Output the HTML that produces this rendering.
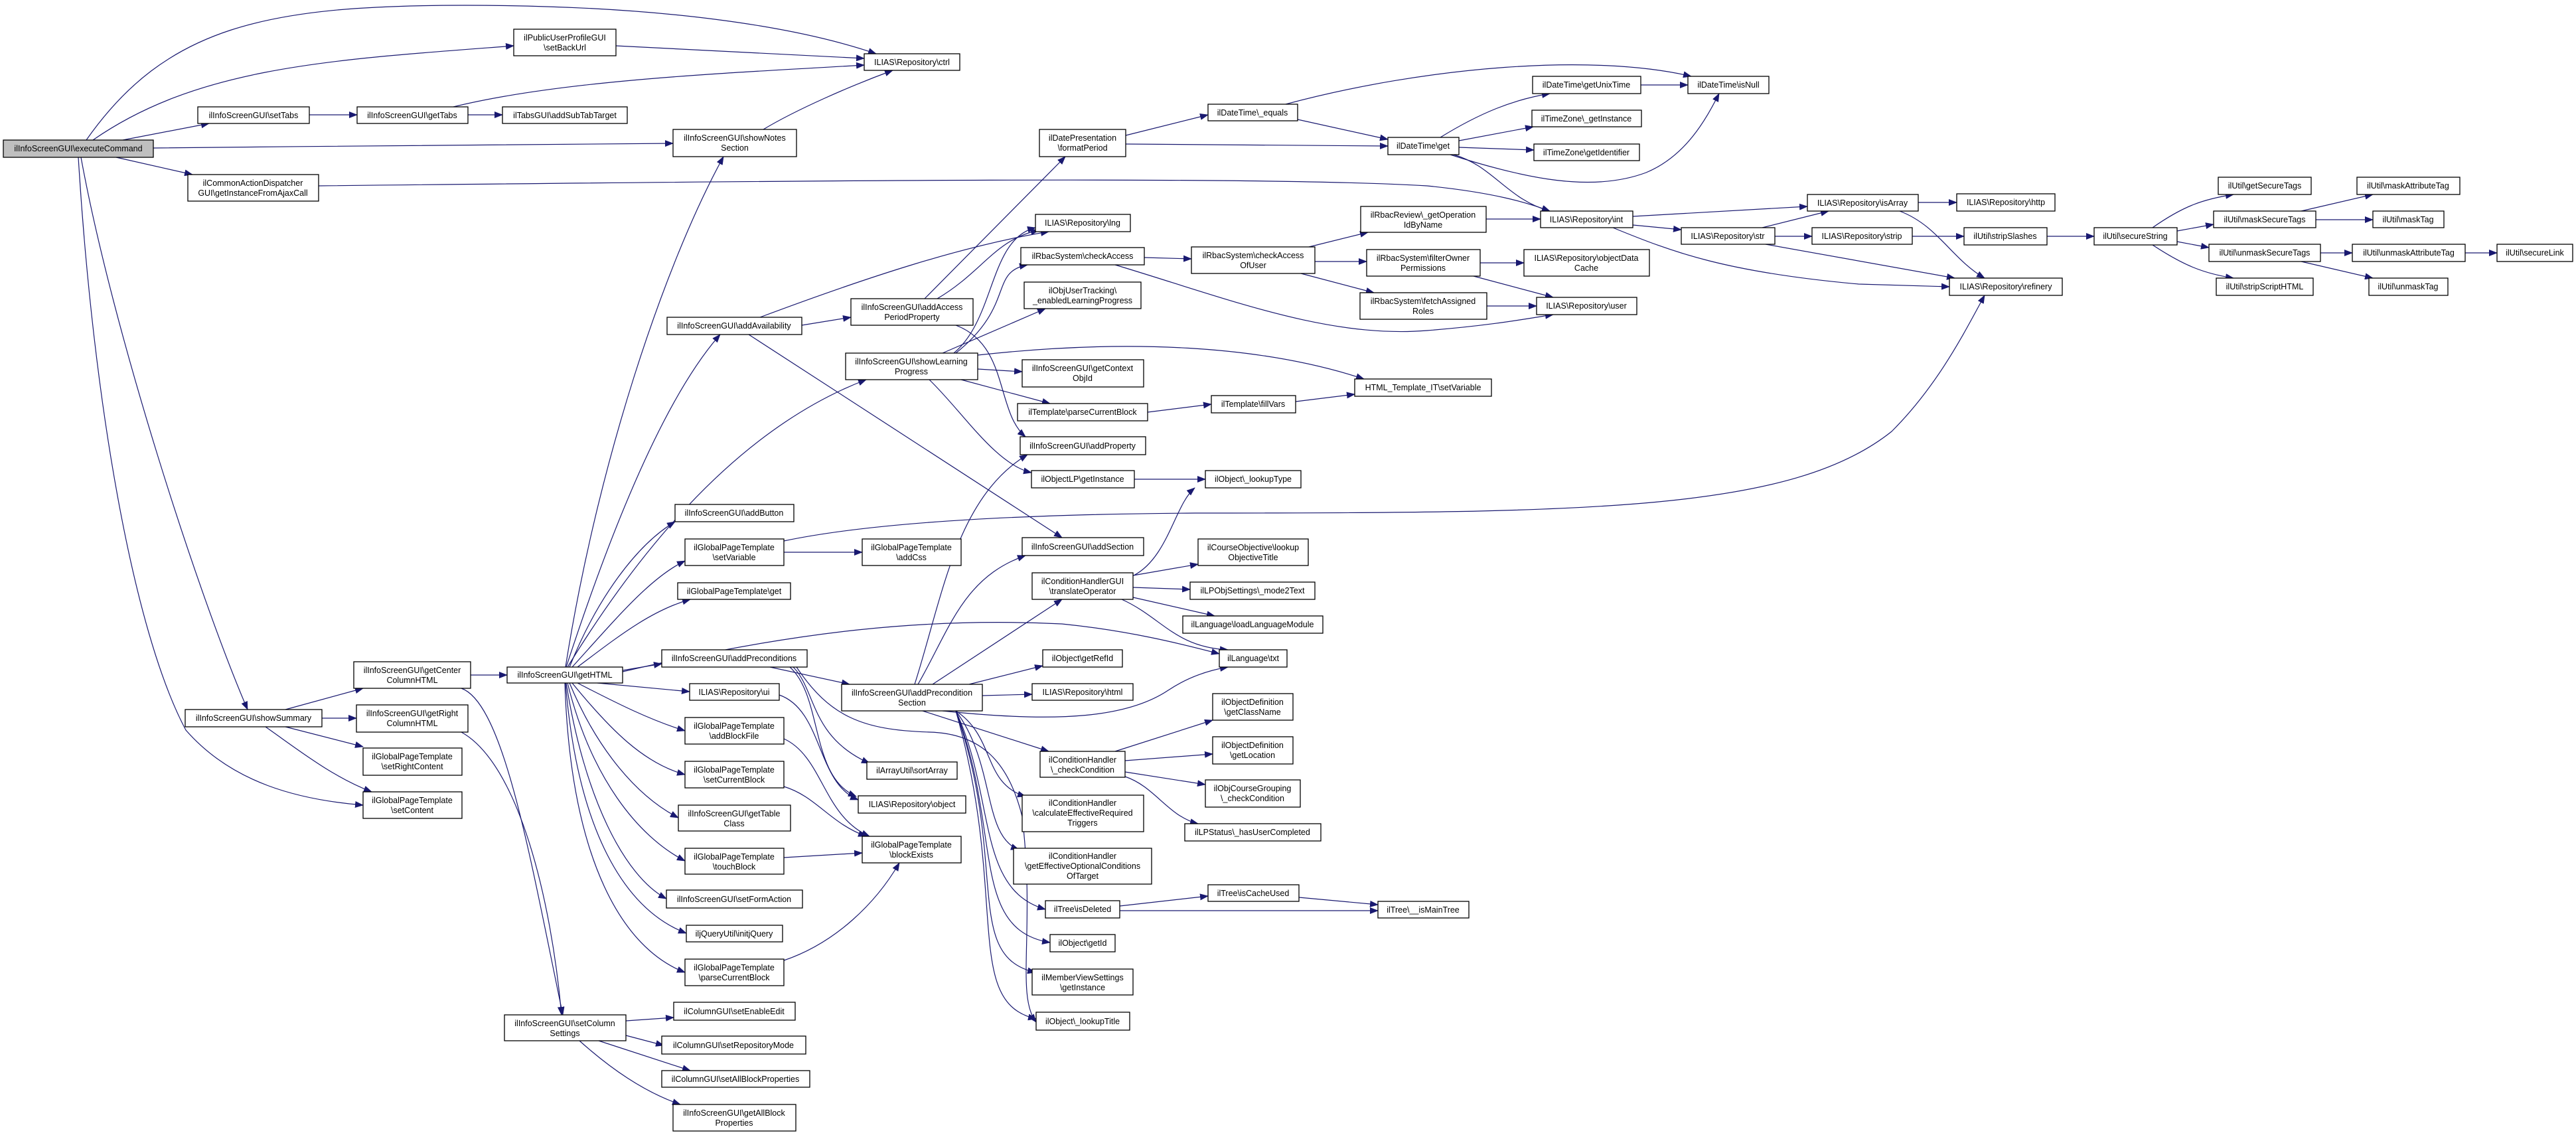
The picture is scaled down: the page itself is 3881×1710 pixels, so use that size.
<!DOCTYPE html>
<html><head><meta charset="utf-8"><style>
html,body{margin:0;padding:0;background:#fff}
svg{display:block}
text{font-family:"Liberation Sans",sans-serif;font-size:12.5px;fill:#000;text-anchor:middle}
.n rect{fill:#fff;stroke:#000;stroke-width:1.3}
.e path{fill:none;stroke:#191970;stroke-width:1.2;marker-end:url(#a)}
</style></head><body>
<svg width="3881" height="1710" viewBox="0 0 3881 1710" xmlns="http://www.w3.org/2000/svg">
<defs><marker id="a" markerWidth="13" markerHeight="10" refX="12" refY="5" orient="auto" markerUnits="userSpaceOnUse"><path d="M0,0 L13,5 L0,10 z" fill="#191970" stroke="none"/></marker></defs>
<g class="e">
<path d="M130,211 C250,40 400,8 700,8 C1000,8 1200,40 1320,81"/>
<path d="M140,211 C300,100 500,90 774,69"/>
<path d="M185,211 L315,186"/>
<path d="M231,223 C500,220 800,218 1014,216"/>
<path d="M175,237 L290,263"/>
<path d="M122,237 C170,500 300,900 373,1069"/>
<path d="M118,237 C140,600 200,950 280,1100 C350,1180 450,1205 547,1213"/>
<path d="M928,69 L1302,88"/>
<path d="M683,161 C850,120 1100,110 1302,98"/>
<path d="M466,173 L538,173"/>
<path d="M705,173 L757,173"/>
<path d="M1150,195 C1200,165 1280,130 1345,106"/>
<path d="M480,280 C1200,272 1900,265 2150,280 C2250,290 2300,305 2335,318"/>
<path d="M430,1069 L547,1037"/>
<path d="M485,1082 L537,1082"/>
<path d="M430,1095 L547,1125"/>
<path d="M400,1095 C450,1130 500,1170 560,1193"/>
<path d="M709,1017 L764,1017"/>
<path d="M695,1037 C760,1060 800,1300 848,1529"/>
<path d="M695,1103 C780,1150 830,1350 846,1529"/>
<path d="M852,1005 C900,700 1000,400 1090,236"/>
<path d="M853,1005 C920,800 1000,600 1085,504"/>
<path d="M855,1005 C950,850 1100,650 1305,572"/>
<path d="M858,1005 C900,900 960,820 1017,786"/>
<path d="M862,1005 C930,930 980,870 1032,845"/>
<path d="M870,1005 C930,960 980,920 1040,903"/>
<path d="M938,1012 C1200,950 1400,930 1600,940 C1700,950 1780,970 1837,985"/>
<path d="M938,1010 L997,1000"/>
<path d="M900,1029 L1039,1042"/>
<path d="M870,1029 C930,1060 980,1085 1032,1101"/>
<path d="M862,1029 C920,1100 970,1150 1032,1167"/>
<path d="M858,1029 C900,1130 960,1200 1022,1232"/>
<path d="M855,1029 C890,1170 960,1260 1032,1297"/>
<path d="M853,1029 C880,1200 940,1320 1004,1354"/>
<path d="M852,1029 C870,1250 940,1370 1034,1406"/>
<path d="M851,1029 C860,1300 940,1430 1032,1465"/>
<path d="M1208,490 L1282,478"/>
<path d="M1145,478 C1300,420 1450,370 1580,349"/>
<path d="M1128,504 L1600,810"/>
<path d="M1393,450 L1605,236"/>
<path d="M1412,450 C1480,410 1500,360 1565,347"/>
<path d="M1440,490 C1520,520 1500,620 1545,658"/>
<path d="M1437,532 C1500,480 1490,360 1560,343"/>
<path d="M1440,532 C1530,460 1490,410 1548,399"/>
<path d="M1420,532 L1575,465"/>
<path d="M1473,556 L1540,560"/>
<path d="M1448,572 L1582,608"/>
<path d="M1400,572 C1450,620 1500,700 1554,712"/>
<path d="M1473,535 C1700,510 1900,520 2055,571"/>
<path d="M1724,388 L1795,390"/>
<path d="M1680,399 C1850,450 2000,510 2150,498 C2250,490 2300,480 2340,474"/>
<path d="M1972,372 L2061,350"/>
<path d="M1981,394 L2059,394"/>
<path d="M1960,412 L2070,441"/>
<path d="M1696,204 L1820,173"/>
<path d="M1696,217 L2091,220"/>
<path d="M1955,180 L2091,210"/>
<path d="M1937,157 C2150,100 2400,80 2548,115"/>
<path d="M2170,207 C2230,170 2280,150 2335,141"/>
<path d="M2198,212 L2310,191"/>
<path d="M2198,222 L2311,226"/>
<path d="M2185,233 C2300,270 2400,290 2480,260 C2540,235 2570,180 2590,141"/>
<path d="M2190,233 C2250,250 2270,300 2335,318"/>
<path d="M2472,128 L2543,128"/>
<path d="M2239,330 L2321,330"/>
<path d="M2230,396 L2296,396"/>
<path d="M2220,416 L2340,448"/>
<path d="M2240,461 L2315,461"/>
<path d="M2460,326 L2723,311"/>
<path d="M2460,339 L2533,346"/>
<path d="M2430,343 C2520,380 2600,410 2800,428 L2937,432"/>
<path d="M2655,343 L2755,318"/>
<path d="M2674,356 L2730,356"/>
<path d="M2660,368 L2945,419"/>
<path d="M2890,305 L2948,305"/>
<path d="M2862,318 C2920,340 2940,390 2990,419"/>
<path d="M2881,356 L2959,356"/>
<path d="M3084,356 L3155,356"/>
<path d="M3243,343 C3290,310 3320,300 3365,293"/>
<path d="M3280,348 L3335,338"/>
<path d="M3280,364 L3328,373"/>
<path d="M3243,369 C3290,400 3320,412 3365,419"/>
<path d="M3467,318 L3575,293"/>
<path d="M3489,331 L3575,331"/>
<path d="M3496,381 L3544,381"/>
<path d="M3467,394 L3575,419"/>
<path d="M3714,381 L3762,381"/>
<path d="M1181,815 C1300,790 1500,775 1800,773 C2400,773 2700,770 2850,650 C2920,580 2960,500 2990,445"/>
<path d="M1181,832 L1299,832"/>
<path d="M1952,605 L2041,594"/>
<path d="M1729,621 L1825,609"/>
<path d="M1709,722 L1816,722"/>
<path d="M1160,1005 L1280,1031"/>
<path d="M1195,1005 C1230,1040 1220,1110 1310,1150"/>
<path d="M1190,1005 C1240,1050 1220,1170 1290,1200"/>
<path d="M1200,1005 C1250,1080 1300,1100 1400,1103 C1480,1105 1520,1150 1540,1230 C1560,1400 1530,1500 1561,1540"/>
<path d="M1174,1047 C1240,1070 1230,1180 1293,1205"/>
<path d="M1181,1113 C1240,1140 1240,1230 1310,1260"/>
<path d="M1181,1185 C1230,1200 1250,1240 1305,1260"/>
<path d="M1181,1292 L1299,1285"/>
<path d="M1181,1447 C1260,1420 1320,1360 1355,1300"/>
<path d="M1383,1031 C1430,950 1450,870 1545,837"/>
<path d="M1378,1031 C1420,900 1440,750 1548,685"/>
<path d="M1405,1031 L1600,903"/>
<path d="M1460,1031 L1571,1003"/>
<path d="M1480,1048 L1555,1046"/>
<path d="M1420,1071 C1600,1090 1700,1080 1760,1040 C1790,1020 1820,1010 1850,1005"/>
<path d="M1390,1071 L1580,1132"/>
<path d="M1440,1071 C1500,1110 1480,1180 1545,1200"/>
<path d="M1440,1071 C1500,1150 1480,1260 1535,1280"/>
<path d="M1440,1071 C1500,1200 1470,1340 1575,1370"/>
<path d="M1440,1071 C1510,1250 1460,1400 1582,1420"/>
<path d="M1440,1071 C1520,1300 1450,1440 1560,1465"/>
<path d="M1440,1071 C1520,1350 1450,1510 1561,1535"/>
<path d="M1708,867 C1760,840 1770,760 1800,735"/>
<path d="M1707,867 L1805,850"/>
<path d="M1707,885 L1793,888"/>
<path d="M1707,900 L1830,928"/>
<path d="M1690,903 C1750,930 1770,975 1850,979"/>
<path d="M1680,1132 L1827,1085"/>
<path d="M1695,1146 L1827,1136"/>
<path d="M1695,1163 L1816,1182"/>
<path d="M1695,1170 C1740,1185 1760,1230 1805,1241"/>
<path d="M1687,1365 L1820,1350"/>
<path d="M1687,1372 L2076,1372"/>
<path d="M1957,1352 L2076,1363"/>
<path d="M943,1538 L1015,1533"/>
<path d="M943,1560 L1000,1575"/>
<path d="M902,1568 L1040,1613"/>
<path d="M873,1568 C920,1610 970,1645 1025,1664"/>
</g>
<g class="n">
<rect x="5" y="211" width="226" height="26" style="fill:#bfbfbf"/><text x="118" y="228">ilInfoScreenGUI\executeCommand</text>
<rect x="774" y="44" width="154" height="40"/><text x="851" y="61">ilPublicUserProfileGUI</text><text x="851" y="76">\setBackUrl</text>
<rect x="298" y="161" width="168" height="25"/><text x="382" y="178">ilInfoScreenGUI\setTabs</text>
<rect x="538" y="161" width="167" height="25"/><text x="621" y="178">ilInfoScreenGUI\getTabs</text>
<rect x="757" y="161" width="188" height="25"/><text x="851" y="178">ilTabsGUI\addSubTabTarget</text>
<rect x="283" y="263" width="197" height="40"/><text x="381" y="280">ilCommonActionDispatcher</text><text x="381" y="295">GUI\getInstanceFromAjaxCall</text>
<rect x="1302" y="81" width="144" height="25"/><text x="1374" y="98">ILIAS\Repository\ctrl</text>
<rect x="1014" y="195" width="186" height="41"/><text x="1107" y="212">ilInfoScreenGUI\showNotes</text><text x="1107" y="227">Section</text>
<rect x="1820" y="157" width="135" height="25"/><text x="1887" y="174">ilDateTime\_equals</text>
<rect x="1566" y="195" width="130" height="41"/><text x="1631" y="212">ilDatePresentation</text><text x="1631" y="227">\formatPeriod</text>
<rect x="1560" y="323" width="143" height="26"/><text x="1631" y="340">ILIAS\Repository\lng</text>
<rect x="1538" y="373" width="186" height="26"/><text x="1631" y="390">ilRbacSystem\checkAccess</text>
<rect x="1795" y="372" width="186" height="40"/><text x="1888" y="389">ilRbacSystem\checkAccess</text><text x="1888" y="404">OfUser</text>
<rect x="1543" y="425" width="176" height="40"/><text x="1631" y="442">ilObjUserTracking\</text><text x="1631" y="457">_enabledLearningProgress</text>
<rect x="1282" y="450" width="184" height="40"/><text x="1374" y="467">ilInfoScreenGUI\addAccess</text><text x="1374" y="482">PeriodProperty</text>
<rect x="1005" y="478" width="203" height="26"/><text x="1106" y="495">ilInfoScreenGUI\addAvailability</text>
<rect x="1274" y="532" width="199" height="40"/><text x="1373" y="549">ilInfoScreenGUI\showLearning</text><text x="1373" y="564">Progress</text>
<rect x="1540" y="542" width="183" height="41"/><text x="1631" y="559">ilInfoScreenGUI\getContext</text><text x="1631" y="574">ObjId</text>
<rect x="1533" y="608" width="196" height="26"/><text x="1631" y="625">ilTemplate\parseCurrentBlock</text>
<rect x="1825" y="596" width="127" height="26"/><text x="1888" y="613">ilTemplate\fillVars</text>
<rect x="1537" y="658" width="189" height="27"/><text x="1631" y="676">ilInfoScreenGUI\addProperty</text>
<rect x="1554" y="709" width="155" height="26"/><text x="1631" y="726">ilObjectLP\getInstance</text>
<rect x="1816" y="709" width="144" height="26"/><text x="1888" y="726">ilObject\_lookupType</text>
<rect x="1017" y="760" width="179" height="26"/><text x="1106" y="777">ilInfoScreenGUI\addButton</text>
<rect x="1032" y="812" width="149" height="40"/><text x="1106" y="829">ilGlobalPageTemplate</text><text x="1106" y="844">\setVariable</text>
<rect x="1299" y="812" width="149" height="40"/><text x="1373" y="829">ilGlobalPageTemplate</text><text x="1373" y="844">\addCss</text>
<rect x="1540" y="810" width="183" height="27"/><text x="1631" y="828">ilInfoScreenGUI\addSection</text>
<rect x="1021" y="878" width="170" height="25"/><text x="1106" y="895">ilGlobalPageTemplate\get</text>
<rect x="1555" y="863" width="152" height="40"/><text x="1631" y="880">ilConditionHandlerGUI</text><text x="1631" y="895">\translateOperator</text>
<rect x="1805" y="812" width="166" height="40"/><text x="1888" y="829">ilCourseObjective\lookup</text><text x="1888" y="844">ObjectiveTitle</text>
<rect x="1793" y="877" width="188" height="26"/><text x="1887" y="894">ilLPObjSettings\_mode2Text</text>
<rect x="1782" y="928" width="211" height="26"/><text x="1887" y="945">ilLanguage\loadLanguageModule</text>
<rect x="1837" y="979" width="102" height="26"/><text x="1888" y="996">ilLanguage\txt</text>
<rect x="997" y="979" width="219" height="26"/><text x="1106" y="996">ilInfoScreenGUI\addPreconditions</text>
<rect x="1571" y="979" width="120" height="26"/><text x="1631" y="996">ilObject\getRefId</text>
<rect x="1039" y="1030" width="135" height="25"/><text x="1106" y="1047">ILIAS\Repository\ui</text>
<rect x="1268" y="1031" width="212" height="40"/><text x="1374" y="1048">ilInfoScreenGUI\addPrecondition</text><text x="1374" y="1063">Section</text>
<rect x="1555" y="1030" width="152" height="25"/><text x="1631" y="1047">ILIAS\Repository\html</text>
<rect x="1827" y="1045" width="121" height="40"/><text x="1887" y="1062">ilObjectDefinition</text><text x="1887" y="1077">\getClassName</text>
<rect x="1032" y="1081" width="149" height="40"/><text x="1106" y="1098">ilGlobalPageTemplate</text><text x="1106" y="1113">\addBlockFile</text>
<rect x="1827" y="1110" width="121" height="41"/><text x="1887" y="1127">ilObjectDefinition</text><text x="1887" y="1142">\getLocation</text>
<rect x="1567" y="1132" width="128" height="39"/><text x="1631" y="1149">ilConditionHandler</text><text x="1631" y="1164">\_checkCondition</text>
<rect x="1306" y="1148" width="136" height="26"/><text x="1374" y="1165">ilArrayUtil\sortArray</text>
<rect x="1032" y="1147" width="149" height="40"/><text x="1106" y="1164">ilGlobalPageTemplate</text><text x="1106" y="1179">\setCurrentBlock</text>
<rect x="1816" y="1175" width="143" height="41"/><text x="1887" y="1192">ilObjCourseGrouping</text><text x="1887" y="1207">\_checkCondition</text>
<rect x="1293" y="1199" width="162" height="26"/><text x="1374" y="1216">ILIAS\Repository\object</text>
<rect x="1540" y="1198" width="183" height="55"/><text x="1631" y="1214">ilConditionHandler</text><text x="1631" y="1229">\calculateEffectiveRequired</text><text x="1631" y="1244">Triggers</text>
<rect x="1022" y="1213" width="169" height="39"/><text x="1106" y="1230">ilInfoScreenGUI\getTable</text><text x="1106" y="1245">Class</text>
<rect x="1785" y="1241" width="205" height="26"/><text x="1887" y="1258">ilLPStatus\_hasUserCompleted</text>
<rect x="1299" y="1260" width="149" height="40"/><text x="1373" y="1277">ilGlobalPageTemplate</text><text x="1373" y="1292">\blockExists</text>
<rect x="1032" y="1278" width="149" height="39"/><text x="1106" y="1295">ilGlobalPageTemplate</text><text x="1106" y="1310">\touchBlock</text>
<rect x="1527" y="1278" width="208" height="54"/><text x="1631" y="1294">ilConditionHandler</text><text x="1631" y="1309">\getEffectiveOptionalConditions</text><text x="1631" y="1324">OfTarget</text>
<rect x="1820" y="1333" width="137" height="25"/><text x="1888" y="1350">ilTree\isCacheUsed</text>
<rect x="1004" y="1341" width="205" height="27"/><text x="1106" y="1359">ilInfoScreenGUI\setFormAction</text>
<rect x="1575" y="1357" width="112" height="26"/><text x="1631" y="1374">ilTree\isDeleted</text>
<rect x="2076" y="1358" width="137" height="25"/><text x="2144" y="1375">ilTree\__isMainTree</text>
<rect x="1034" y="1394" width="145" height="25"/><text x="1106" y="1411">iljQueryUtil\initjQuery</text>
<rect x="1582" y="1408" width="98" height="26"/><text x="1631" y="1425">ilObject\getId</text>
<rect x="1032" y="1445" width="149" height="40"/><text x="1106" y="1462">ilGlobalPageTemplate</text><text x="1106" y="1477">\parseCurrentBlock</text>
<rect x="1555" y="1460" width="152" height="39"/><text x="1631" y="1477">ilMemberViewSettings</text><text x="1631" y="1492">\getInstance</text>
<rect x="1015" y="1510" width="183" height="27"/><text x="1106" y="1528">ilColumnGUI\setEnableEdit</text>
<rect x="1561" y="1525" width="141" height="27"/><text x="1631" y="1543">ilObject\_lookupTitle</text>
<rect x="997" y="1561" width="217" height="27"/><text x="1105" y="1579">ilColumnGUI\setRepositoryMode</text>
<rect x="997" y="1613" width="223" height="25"/><text x="1108" y="1630">ilColumnGUI\setAllBlockProperties</text>
<rect x="1014" y="1664" width="185" height="40"/><text x="1106" y="1681">ilInfoScreenGUI\getAllBlock</text><text x="1106" y="1696">Properties</text>
<rect x="533" y="997" width="176" height="40"/><text x="621" y="1014">ilInfoScreenGUI\getCenter</text><text x="621" y="1029">ColumnHTML</text>
<rect x="764" y="1005" width="174" height="24"/><text x="851" y="1021">ilInfoScreenGUI\getHTML</text>
<rect x="279" y="1069" width="206" height="26"/><text x="382" y="1086">ilInfoScreenGUI\showSummary</text>
<rect x="537" y="1062" width="168" height="41"/><text x="621" y="1079">ilInfoScreenGUI\getRight</text><text x="621" y="1094">ColumnHTML</text>
<rect x="547" y="1127" width="149" height="41"/><text x="621" y="1144">ilGlobalPageTemplate</text><text x="621" y="1159">\setRightContent</text>
<rect x="547" y="1193" width="149" height="40"/><text x="621" y="1210">ilGlobalPageTemplate</text><text x="621" y="1225">\setContent</text>
<rect x="760" y="1529" width="183" height="39"/><text x="851" y="1546">ilInfoScreenGUI\setColumn</text><text x="851" y="1561">Settings</text>
<rect x="2309" y="115" width="163" height="26"/><text x="2390" y="132">ilDateTime\getUnixTime</text>
<rect x="2543" y="115" width="122" height="26"/><text x="2604" y="132">ilDateTime\isNull</text>
<rect x="2308" y="166" width="165" height="25"/><text x="2390" y="183">ilTimeZone\_getInstance</text>
<rect x="2091" y="207" width="107" height="26"/><text x="2144" y="224">ilDateTime\get</text>
<rect x="2311" y="217" width="159" height="25"/><text x="2390" y="234">ilTimeZone\getIdentifier</text>
<rect x="2723" y="293" width="167" height="25"/><text x="2806" y="310">ILIAS\Repository\isArray</text>
<rect x="2321" y="318" width="139" height="25"/><text x="2390" y="335">ILIAS\Repository\int</text>
<rect x="2050" y="311" width="189" height="39"/><text x="2144" y="328">ilRbacReview\_getOperation</text><text x="2144" y="343">IdByName</text>
<rect x="2533" y="343" width="141" height="25"/><text x="2603" y="360">ILIAS\Repository\str</text>
<rect x="2730" y="343" width="151" height="25"/><text x="2805" y="360">ILIAS\Repository\strip</text>
<rect x="2059" y="376" width="171" height="40"/><text x="2144" y="393">ilRbacSystem\filterOwner</text><text x="2144" y="408">Permissions</text>
<rect x="2296" y="376" width="189" height="40"/><text x="2390" y="393">ILIAS\Repository\objectData</text><text x="2390" y="408">Cache</text>
<rect x="2937" y="419" width="170" height="26"/><text x="3022" y="436">ILIAS\Repository\refinery</text>
<rect x="2049" y="441" width="191" height="40"/><text x="2144" y="458">ilRbacSystem\fetchAssigned</text><text x="2144" y="473">Roles</text>
<rect x="2315" y="448" width="151" height="26"/><text x="2390" y="465">ILIAS\Repository\user</text>
<rect x="2041" y="571" width="206" height="26"/><text x="2144" y="588">HTML_Template_IT\setVariable</text>
<rect x="2948" y="292" width="148" height="26"/><text x="3022" y="309">ILIAS\Repository\http</text>
<rect x="2959" y="343" width="125" height="26"/><text x="3021" y="360">ilUtil\stripSlashes</text>
<rect x="3155" y="343" width="125" height="26"/><text x="3217" y="360">ilUtil\secureString</text>
<rect x="3342" y="267" width="140" height="26"/><text x="3412" y="284">ilUtil\getSecureTags</text>
<rect x="3335" y="318" width="154" height="25"/><text x="3412" y="335">ilUtil\maskSecureTags</text>
<rect x="3328" y="368" width="168" height="26"/><text x="3412" y="385">ilUtil\unmaskSecureTags</text>
<rect x="3339" y="419" width="146" height="26"/><text x="3412" y="436">ilUtil\stripScriptHTML</text>
<rect x="3551" y="267" width="155" height="26"/><text x="3628" y="284">ilUtil\maskAttributeTag</text>
<rect x="3575" y="318" width="107" height="25"/><text x="3628" y="335">ilUtil\maskTag</text>
<rect x="3544" y="368" width="170" height="26"/><text x="3629" y="385">ilUtil\unmaskAttributeTag</text>
<rect x="3762" y="368" width="114" height="26"/><text x="3819" y="385">ilUtil\secureLink</text>
<rect x="3569" y="419" width="119" height="26"/><text x="3628" y="436">ilUtil\unmaskTag</text>
</g>
</svg>
</body></html>
